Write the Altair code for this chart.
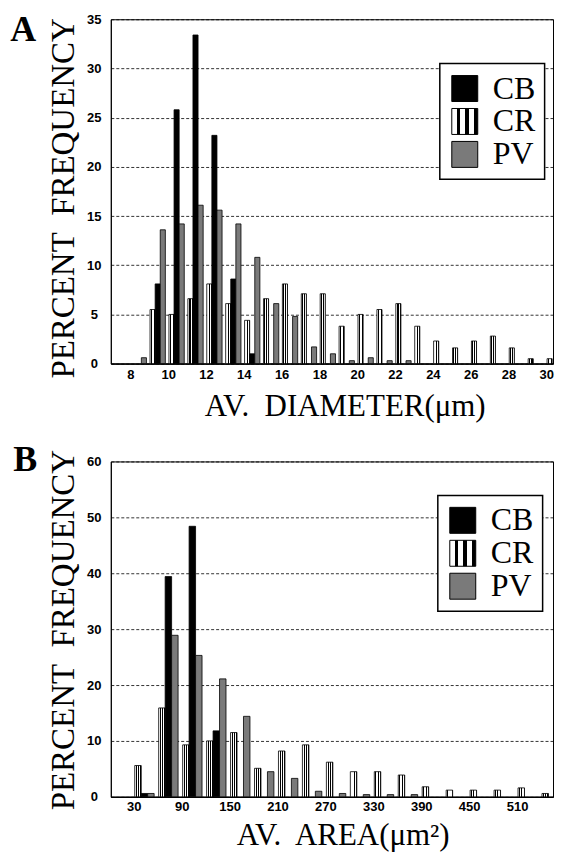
import altair as alt
import pandas as pd

# ---------------- data ----------------
series = ["CB", "CR", "PV"]

diam_bins = [8, 9, 10, 11, 12, 13, 14, 15, 16, 17, 18, 19, 20, 21, 22, 23, 24, 25, 26, 27, 28, 29, 30]
diam_cb = [0, 8.1, 25.8, 33.4, 23.2, 8.6, 1.0, 0, 0, 0, 0, 0, 0, 0, 0, 0, 0, 0, 0, 0, 0, 0, 0]
diam_cr = [0, 5.5, 5.0, 6.6, 8.1, 6.1, 4.4, 6.6, 8.1, 7.1, 7.1, 3.8, 5.0, 5.5, 6.1, 3.8, 2.3, 1.6, 2.3, 2.8, 1.6, 0.5, 0.5]
diam_pv = [0.6, 13.6, 14.2, 16.1, 15.6, 14.2, 10.8, 6.1, 4.8, 1.7, 1.0, 0.3, 0.6, 0.3, 0.3, 0, 0, 0, 0, 0, 0, 0, 0]
diam_ticks = [8, 10, 12, 14, 16, 18, 20, 22, 24, 26, 28, 30]

area_bins = [30, 60, 90, 120, 150, 180, 210, 240, 270, 300, 330, 360, 390, 420, 450, 480, 510, 540]
area_cb = [0.6, 39.4, 48.4, 11.8, 0, 0, 0, 0, 0, 0, 0, 0, 0, 0, 0, 0, 0, 0]
area_cr = [5.6, 15.9, 9.3, 10.0, 11.5, 5.1, 8.2, 9.3, 6.2, 4.5, 4.5, 3.9, 1.8, 1.2, 1.2, 1.2, 1.6, 0.6]
area_pv = [0.6, 28.9, 25.3, 21.1, 14.4, 4.5, 3.3, 1.0, 0.6, 0.4, 0.4, 0.4, 0, 0, 0, 0, 0, 0]
area_ticks = [30, 90, 150, 210, 270, 330, 390, 450, 510]

# order of bars inside one bin, left to right: CR, CB, PV
bar_start = {"CR": 0.04, "CB": 0.31, "PV": 0.58}
bar_w = 0.27


def build(bins, step, vals):
    rows = []
    for s, arr in vals.items():
        for b, v in zip(bins, arr):
            if v > 0:
                x0 = b + bar_start[s] * step
                rows.append({"s": s, "x0": x0, "x1": x0 + bar_w * step, "v": v})
    return pd.DataFrame(rows)


df_a = build(diam_bins, 1, {"CB": diam_cb, "CR": diam_cr, "PV": diam_pv})
df_b = build(area_bins, 30, {"CB": area_cb, "CR": area_cr, "PV": area_pv})

# striped (hatch-like) fill for CR
N, f = 3, 0.45
stops = []
for k in range(N):
    a = k / N
    b = a + (1 - f) / N
    c = (k + 1) / N
    stops += [(a, "#ffffff"), (b, "#ffffff"), (b, "#000000"), (c, "#000000")]
stop_txt = ",".join("{'offset':%.4f,'color':'%s'}" % (o, col) for o, col in stops)
grad = "{'gradient':'linear','x1':0,'y1':0,'x2':1,'y2':0,'stops':[%s]}" % stop_txt

SERIF = "Liberation Serif"
SANS = "Liberation Sans"


def panel(df, xdom, xticks, ymax, ystep, xtitle, letter, w, h,
          legx, legy, ytx, yty, xtx, xty, lx, ly, lpad):
    bars = alt.Chart(df).mark_bar(stroke="black", strokeWidth=0.8).encode(
        x=alt.X("x0:Q",
                scale=alt.Scale(domain=xdom, nice=False, zero=False),
                axis=alt.Axis(values=xticks, format="d", title=xtitle,
                              ticks=False, grid=False, domainColor="black",
                              domainWidth=1.5, labelFont=SANS, labelFontWeight="bold",
                              labelFontSize=13, labelColor="black", labelPadding=lpad,
                              labelFlush=False, labelOverlap=False,
                              titleFont=SERIF, titleFontSize=31, titleFontWeight="normal",
                              titleColor="black", titleX=xtx, titleY=xty,
                              titleBaseline="alphabetic", titleAlign="center")),
        x2="x1:Q",
        y=alt.Y("v:Q",
                scale=alt.Scale(domain=[0, ymax], nice=False),
                axis=alt.Axis(values=list(range(0, ymax + 1, ystep)), format="d",
                              title="PERCENT\u00a0 FREQUENCY",
                              ticks=False, grid=True, gridColor="black", gridDash=[3, 2],
                              gridWidth=0.8, gridOpacity=1, domainColor="black",
                              labelFont=SANS, labelFontWeight="bold", labelFontSize=13,
                              labelColor="black", labelAlign="center", labelPadding=17,
                              titleFont=SERIF, titleFontSize=33, titleFontWeight="normal",
                              titleColor="black", titleAngle=270, titleX=ytx, titleY=yty,
                              titleBaseline="alphabetic", titleAlign="center")),
        y2=alt.datum(0),
        fill=alt.Fill("s:N",
                      scale=alt.Scale(domain=series,
                                      range=["#000000", alt.ExprRef(grad), "#7a7a7a"]),
                      legend=alt.Legend(orient="none", legendX=legx, legendY=legy,
                                        title=None, symbolType="square", symbolSize=676,
                                        symbolStrokeColor="black", symbolStrokeWidth=1,
                                        labelFont=SERIF, labelFontSize=32,
                                        labelColor="black", labelOffset=12,
                                        rowPadding=1, padding=9,
                                        fillColor="white", strokeColor="black")),
    )
    txt = alt.Chart(pd.DataFrame({"t": [letter]})).mark_text(
        font=SERIF, fontWeight="bold", fontSize=36, align="left",
        baseline="alphabetic", color="black"
    ).encode(text="t:N", x=alt.value(lx), y=alt.value(ly))
    return alt.layer(bars, txt).properties(width=w, height=h)


pa = panel(df_a, [6.965, 30.355], diam_ticks, 35, 5, "AV.\u00a0 DIAMETER(\u03bcm)", "A",
           443, 345, 329.6, 44.4, -37.7, 179, 234.3, 52, -100.7, 21.5, 5)
pb = panel(df_b, [1.25, 555.0], area_ticks, 60, 10, "AV.\u00a0 AREA(\u03bcm\u00b2)", "B",
           443, 336, 327.6, 34, -37.7, 168.5, 232.3, 48, -97.7, 10, 4)

chart = alt.vconcat(pa, pb, spacing=19).resolve_scale(fill="independent").properties(
    padding={"left": 1, "top": 2.5, "right": 0, "bottom": 0}
).configure_view(stroke="black", strokeWidth=1).configure_legend(strokeWidth=1.5)

chart.save("out.html", embed_options={"renderer": "svg", "actions": False})
